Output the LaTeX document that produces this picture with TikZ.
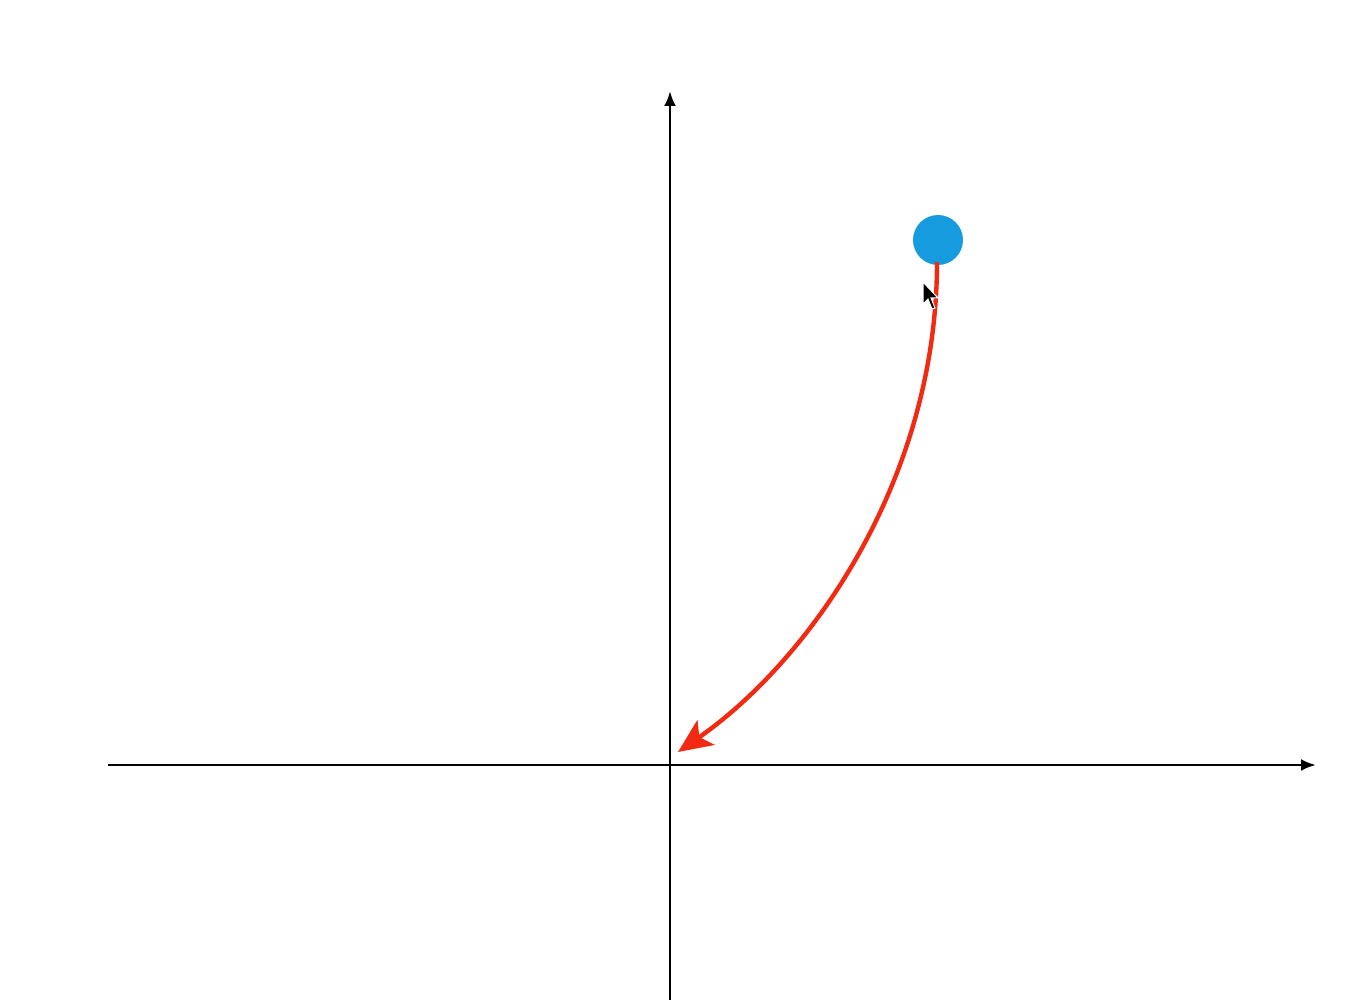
\documentclass[tikz,border=0pt]{standalone}
\usetikzlibrary{arrows.meta}
\definecolor{dotblue}{HTML}{169BDF}
\definecolor{curvered}{HTML}{F22A12}
\tikzset{
  axis/.style={line width=2.8pt, -{Latex[length=15pt,width=12pt]}},
  motion/.style={curvered, line width=4.4pt, -{Stealth[length=34pt,width=30pt,inset=8pt]}},
  ball/.style={circle, fill=dotblue, draw=none, minimum size=50pt, inner sep=0pt}
}
\begin{document}
\begin{tikzpicture}[x=1pt,y=-1pt]
\useasboundingbox (0,0) rectangle (1352,1000);
\fill[white] (0,0) rectangle (1352,1000);
\coordinate (xl) at (108,765);
\coordinate (xr) at (1316,765);
\coordinate (yb) at (670,1000);
\coordinate (yt) at (670,91);
\draw[axis] (xl) -- (xr);
\draw[axis] (yb) -- (yt);
\node[ball] (b) at (938,240) {};
\coordinate (s) at (937,262);
\coordinate (e) at (678,752);
\draw[motion] (s) .. controls (937,480) and (810,660) .. (e);
\fill[black, draw=white, line width=1pt] (923,282) -- (923,304) -- (928,299) -- (932,309) -- (935,308) -- (931,298) -- (938,298) -- cycle;
\end{tikzpicture}
\end{document}
